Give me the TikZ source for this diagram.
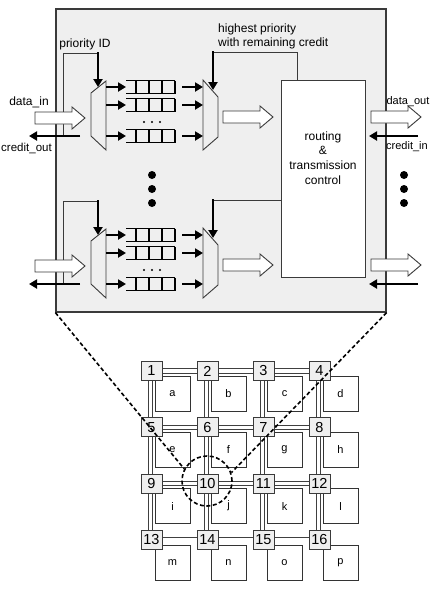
\documentclass[tikz,border=0pt]{standalone}
\usepackage{fontspec}
\setmainfont{Liberation Sans}
\usetikzlibrary{arrows.meta,calc}
\definecolor{boxbg}{HTML}{EFEFEF}
\definecolor{edge}{HTML}{3A3A3A}
\begin{document}
\begin{tikzpicture}[x=1pt,y=-1pt,
  lbl/.style={font=\fontsize{12}{14}\selectfont, inner sep=0pt},
  slbl/.style={font=\fontsize{11}{13}\selectfont, inner sep=0pt},
  thickarrow/.style={line width=2.2pt, -{Triangle[length=8pt,width=9pt]}},
  thinline/.style={line width=0.9pt, draw=edge},
  fatstyle/.style={draw=edge, line width=0.9pt, fill=white, line join=miter},
  muxstyle/.style={draw=edge, line width=0.9pt, fill=boxbg},
  qline/.style={line width=1.8pt},
  qcell/.style={line width=1.3pt},
  router/.style={draw=edge, fill=boxbg, line width=0.9pt, minimum width=21pt, minimum height=19pt, inner sep=0pt, font=\fontsize{14.5}{15}\selectfont},
  pe/.style={draw=black!80, line width=0.8pt, fill=white, minimum size=35pt, inner sep=0pt, font=\fontsize{11}{12}\selectfont},
  link/.style={draw=black!75, line width=0.8pt, double=white, double distance=3.5pt},
  zoomline/.style={line width=1.6pt, dash pattern=on 4pt off 2.5pt},
  bigdot/.style={circle, fill=black, minimum size=8pt, inner sep=0pt},
  pics/fat/.style={code={\draw[fatstyle] (0,-6) -- (37,-6) -- (37,-11) -- (50,0) -- (37,11) -- (37,6) -- (0,6) -- cycle;}}
]
\useasboundingbox (0,0) rectangle (436,590);
% main router box
\node[draw=edge, fill=boxbg, line width=1.2pt, minimum width=330pt, minimum height=303pt, inner sep=0pt] (main) at (221,160.5) {};
% routing box
\node[draw=edge, fill=white, line width=0.9pt, minimum width=84pt, minimum height=197pt, inner sep=0pt] (route) at (323,178.5) {};
\node[lbl, align=center, font=\fontsize{12}{14.6}\selectfont] (trc) at (323,158) {routing\\\&\\transmission\\control};

% two input groups
\foreach \dy/\s in {0/u,148/l}{
\begin{scope}[yshift=-\dy pt]
  % priority ID feedback
  \draw[thinline] (63,136) -- (63,53) -- (98,53);
  \draw[thickarrow] (98,52) -- (98,87);
  % demux and mux
  \draw[muxstyle] (91,93) -- (106,81) -- (106,150) -- (91,136) -- cycle;
  \draw[muxstyle] (203,80) -- (218,97) -- (218,137) -- (203,150) -- cycle;
  % queues
  \foreach \qy in {87,105,136}{
    \draw[qline] (126,{\qy-6.5}) -- (175,{\qy-6.5}) (126,{\qy+6.5}) -- (175,{\qy+6.5});
    \draw[qcell] (136,{\qy-6.5}) -- (136,{\qy+6.5}) (149,{\qy-6.5}) -- (149,{\qy+6.5})
                 (162,{\qy-6.5}) -- (162,{\qy+6.5}) (175,{\qy-6.5}) -- (175,{\qy+6.5});
    \draw[thickarrow] (106,\qy) -- (126,\qy);
    \draw[thickarrow] (182,\qy) -- (203,\qy);
  }
  \fill (144,122) circle (1.2) (152,122) circle (1.2) (160,122) circle (1.2);
  % fat arrows
  \pic at (35,118) {fat};
  \pic at (223,117) {fat};
  \pic at (371,117) {fat};
  % credit arrows
  \draw[thickarrow] (80,136) -- (29,136);
  \draw[thickarrow] (418,136) -- (369,136);
\end{scope}
}
% feedback from routing control
\draw[thinline] (297,80) -- (297,52) -- (213,52);
\draw[thickarrow] (213,51) -- (213,90);
\draw[thinline] (281,200) -- (213,200);
\draw[thickarrow] (213,199) -- (213,238);

% labels
\node[lbl] (tpid) at (85,44) {priority ID};
\node[lbl, align=left, anchor=west] (thp) at (218,36) {highest priority\\with remaining credit};
\node[lbl] (tdin) at (29,102) {data\_in};
\node[lbl, font=\fontsize{11.5}{13}\selectfont] (tcout) at (26.5,148) {credit\_out};
\node[slbl] (tdout) at (408,101.5) {data\_out};
\node[slbl] (tcin) at (407,147) {credit\_in};

% big dots
\foreach \yy in {175,189,203}{
  \node[bigdot] at (152,\yy) {};
  \node[bigdot] at (404,\yy) {};
}

% mesh links
\foreach \j in {0,...,3}{
  \foreach \i in {0,...,2}{
    \draw[link] ({151.5+56*\i},{371+56.3*\j}) -- ({151.5+56*(\i+1)},{371+56.3*\j});
  }
}
\foreach \i in {0,...,3}{
  \foreach \j in {0,...,2}{
    \draw[link] ({150.5+56*\i},{371+56.3*\j}) -- ({150.5+56*\i},{371+56.3*(\j+1)});
  }
}
% PEs and routers
\foreach \lab [count=\n from 0] in {a,b,c,d,e,f,g,h,i,j,k,l,m,n,o,p}{
  \pgfmathtruncatemacro{\ci}{mod(\n,4)}
  \pgfmathtruncatemacro{\rj}{div(\n,4)}
  \pgfmathtruncatemacro{\num}{\n+1}
  \node[pe] (pe\lab) at ({172.5+56*\ci},{393.5+56.3*\rj}) {\lab};
  \node[router] (r\num) at ({151.5+56*\ci},{371+56.3*\rj}) {\num};
}

% zoom indication
\node[draw, circle, zoomline, minimum size=50pt, inner sep=0pt] (zc) at (207,481) {};
\draw[zoomline] (main.south west) -- (zc.152);
\draw[zoomline] (main.south east) -- (zc.19);
\end{tikzpicture}
\end{document}
